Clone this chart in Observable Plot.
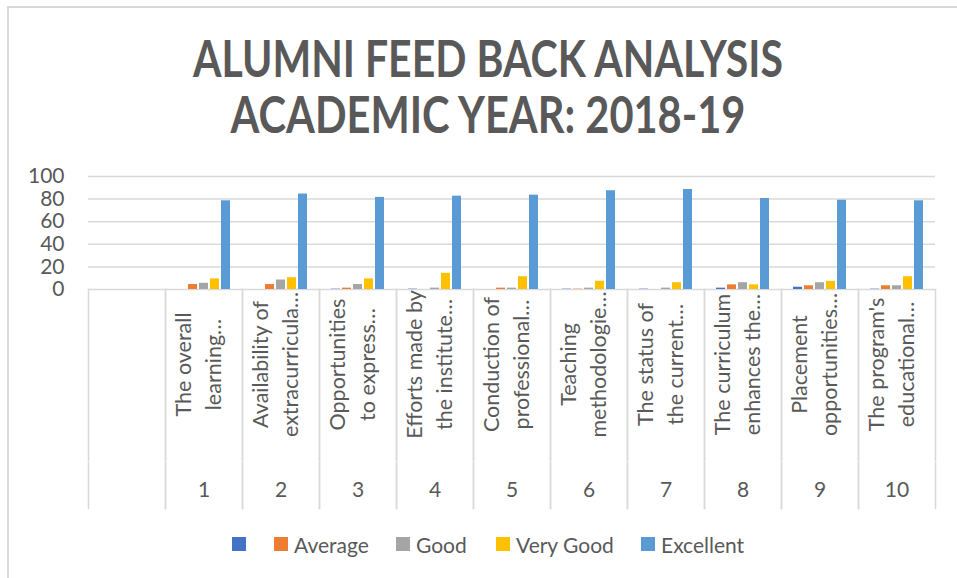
<!DOCTYPE html>
<html>
<head>
<meta charset="utf-8">
<script src="https://cdn.jsdelivr.net/npm/d3@7"></script>
<script src="https://cdn.jsdelivr.net/npm/@observablehq/plot@0.6"></script>
<style>
html, body { margin: 0; padding: 0; background: #fff; }
#chart { position: relative; width: 957px; height: 578px; overflow: hidden; background: #fff;
  font-family: Lato, "Open Sans", sans-serif; color: #595959; }
#chart > svg.plot { position: absolute; left: 0; top: 0; }
.border-left { position: absolute; left: 7px; top: 6px; width: 1.5px; height: 600px; background: #d9d9d9; }
.border-top { position: absolute; left: 7px; top: 6px; width: 1000px; height: 1.5px; background: #d9d9d9; }
.legend-item { position: absolute; top: 532px; height: 24px; display: flex; align-items: center; font-size: 21px; color: #595959; white-space: nowrap; }
.legend-item .sw { width: 14px; height: 14px; margin-right: 6px; flex: none; }
#title { position: absolute; left: 0; top: 0; pointer-events: none; }
</style>
</head>
<body>
<div id="chart">
  <div class="border-left"></div>
  <div class="border-top"></div>
</div>
<script>
// ---- data ----
const titleLines = ["ALUMNI FEED BACK ANALYSIS", "ACADEMIC YEAR: 2018-19"];
const categories = ["", "1", "2", "3", "4", "5", "6", "7", "8", "9", "10"];
const questionLabels = [
  "",
  "The overall\nlearning…",
  "Availability of\nextracurricula…",
  "Opportunities\nto express…",
  "Efforts made by\nthe institute…",
  "Conduction of\nprofessional…",
  "Teaching\nmethodologie…",
  "The status of\nthe current…",
  "The curriculum\nenhances the…",
  "Placement\nopportunities…",
  "The program's\neducational…"
];
const seriesNames = ["", "Average", "Good", "Very Good", "Excellent"];
const seriesColors = ["#4472c4", "#ed7d31", "#a5a5a5", "#ffc000", "#5b9bd5"];
const blankValues     = [0, 0,   0,   0.3, 0.3, 0,   0.3, 0.3, 1.2, 2,   0.3];
const averageValues   = [0, 4.4, 4.4, 1.2, 0,   1.2, 0.3, 0,   4.1, 3.3, 3.3];
const goodValues      = [0, 5.5, 8.4, 4.4, 1.2, 1.2, 1.2, 1.2, 6,   6,   3.3];
const veryGoodValues  = [0, 9.4, 10.4, 9.4, 14.3, 11.3, 7.3, 6,  4.1, 7.2, 11.3];
const excellentValues = [0, 78.5, 84.5, 81.5, 82.6, 83.5, 87.4, 88.5, 80.5, 79, 78.5];
const yTicks = [0, 20, 40, 60, 80, 100];

// ---- tables built from the arrays ----
const seriesValues = [blankValues, averageValues, goodValues, veryGoodValues, excellentValues];
const rows = [];
categories.forEach((c, i) => {
  seriesNames.forEach((s, j) => rows.push({group: c, series: s, value: seriesValues[j][i]}));
});
const labelRows = categories.map((c, i) => ({group: c, label: questionLabels[i], num: c}));

const plot = Plot.plot({
  width: 957,
  height: 578,
  marginTop: 176,
  marginBottom: 289,
  marginLeft: 84,
  marginRight: 19,
  style: {fontFamily: "Lato, 'Open Sans', sans-serif", color: "#595959", background: "transparent", overflow: "visible"},
  fx: {domain: categories, padding: 0, axis: null},
  x: {domain: seriesNames, paddingInner: 0.22, paddingOuter: 0.85, axis: null},
  y: {domain: [0, 100]},
  color: {domain: seriesNames, range: seriesColors},
  marks: [
    Plot.gridY(yTicks, {stroke: "#d9d9d9", strokeOpacity: 1, strokeWidth: 1.5}),
    Plot.axisY(yTicks, {tickSize: 0, tickPadding: 24, fontSize: 21, color: "#595959", label: null}),
    Plot.frame({anchor: "left", stroke: "#d9d9d9", strokeOpacity: 1, strokeWidth: 1.5, insetTop: 113, insetBottom: -171}),
    Plot.frame({anchor: "left", stroke: "#d9d9d9", strokeOpacity: 1, strokeWidth: 1.5, insetTop: 286, insetBottom: -219}),
    Plot.frame({anchor: "right", stroke: "#d9d9d9", strokeOpacity: 1, strokeWidth: 1.5, insetTop: 113, insetBottom: -171}),
    Plot.frame({anchor: "right", stroke: "#d9d9d9", strokeOpacity: 1, strokeWidth: 1.5, insetTop: 286, insetBottom: -219}),
    Plot.barY(rows, {fx: "group", x: "series", y: "value", fill: "series"}),
    Plot.text(labelRows, {fx: "group", text: "label", frameAnchor: "bottom", rotate: -90, dx: 17, dy: 75,
      lineHeight: 1.38, fontSize: 21.5, fill: "#595959"}),
    Plot.text(labelRows, {fx: "group", text: "num", frameAnchor: "bottom", dy: 207, fontSize: 21, fill: "#595959"})
  ]
});
plot.classList.add("plot");
const chart = document.getElementById("chart");
chart.appendChild(plot);

// ---- title ----
const ns = "http://www.w3.org/2000/svg";
const tsvg = document.createElementNS(ns, "svg");
tsvg.setAttribute("id", "title");
tsvg.setAttribute("width", 957);
tsvg.setAttribute("height", 170);
const titleSpecs = [{y: 77, len: 590}, {y: 133, len: 515}];
titleLines.forEach((line, i) => {
  const t = document.createElementNS(ns, "text");
  t.setAttribute("x", 488);
  t.setAttribute("y", titleSpecs[i].y);
  t.setAttribute("text-anchor", "middle");
  t.setAttribute("font-family", "Lato, 'Open Sans', sans-serif");
  t.setAttribute("font-weight", "700");
  t.setAttribute("font-size", "51");
  t.setAttribute("fill", "#595959");
  t.setAttribute("textLength", titleSpecs[i].len);
  t.setAttribute("lengthAdjust", "spacingAndGlyphs");
  t.textContent = line;
  tsvg.appendChild(t);
});
chart.appendChild(tsvg);

// ---- legend ----
const legendLeft = [232, 274, 396, 496, 641];
seriesNames.forEach((s, i) => {
  const item = document.createElement("div");
  item.className = "legend-item";
  item.style.left = legendLeft[i] + "px";
  const sw = document.createElement("span");
  sw.className = "sw";
  sw.style.background = seriesColors[i];
  item.appendChild(sw);
  const tx = document.createElement("span");
  tx.textContent = s;
  item.appendChild(tx);
  chart.appendChild(item);
});
</script>
</body>
</html>
